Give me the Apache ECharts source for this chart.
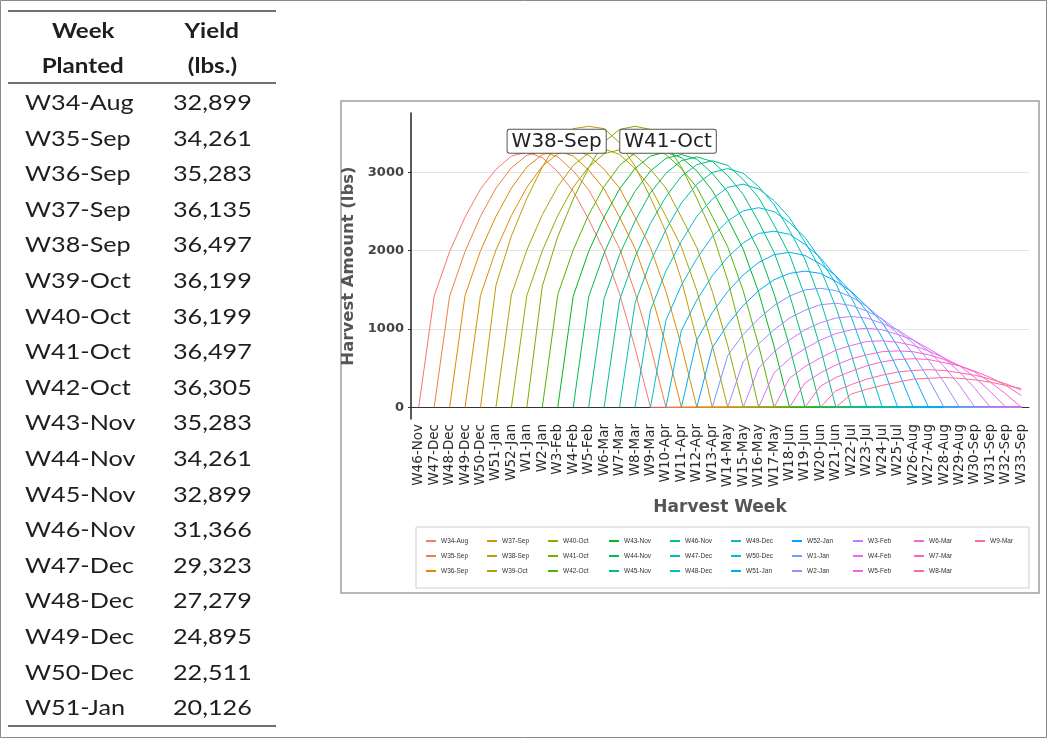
<!DOCTYPE html>
<html>
<head>
<meta charset="utf-8">
<script src="https://cdn.jsdelivr.net/npm/echarts@6/dist/echarts.min.js"></script>
<style>
    html, body { margin: 0; padding: 0; background: #fff; }
    #chart { position: absolute; left: 0; top: 0; width: 1047px; height: 738px; }
    #tbl { position: absolute; left: 8px; top: 10px; width: 268px; z-index: 2;
        font-family: Lato, 'Open Sans', sans-serif; color: #1e1e1e;
        border-top: 2px solid #707070; border-bottom: 2px solid #707070; }
    #tbl .hdr { position: relative; height: 70px; border-bottom: 2px solid #707070; font-weight: bold; font-size: 21px; }
    #tbl .hdr div { position: absolute; top: 0; text-align: center; line-height: 35px; }
    #tbl .row { position: relative; height: 35.6px; font-size: 21px; }
    #tbl .row span { position: absolute; top: 0; line-height: 35.6px; white-space: nowrap; transform: scaleX(1.2); transform-origin: left center; }
    #tbl .st { display: inline-block; transform: scaleX(1.15); }
</style>
</head>
<body>
<div id="chart"></div>
<div id="tbl"></div>
<script>
// harvest weeks on the x axis
var harvestWeeks = ['W46-Nov', 'W47-Dec', 'W48-Dec', 'W49-Dec', 'W50-Dec', 'W51-Jan', 'W52-Jan', 'W1-Jan',
    'W2-Jan', 'W3-Feb', 'W4-Feb', 'W5-Feb', 'W6-Mar', 'W7-Mar', 'W8-Mar', 'W9-Mar', 'W10-Apr', 'W11-Apr',
    'W12-Apr', 'W13-Apr', 'W14-May', 'W15-May', 'W16-May', 'W17-May', 'W18-Jun', 'W19-Jun', 'W20-Jun',
    'W21-Jun', 'W22-Jul', 'W23-Jul', 'W24-Jul', 'W25-Jul', 'W26-Aug', 'W27-Aug', 'W28-Aug', 'W29-Aug',
    'W30-Sep', 'W31-Sep', 'W32-Sep', 'W33-Sep'];

// planting weeks (one curve each)
var plantingWeeks = ['W34-Aug', 'W35-Sep', 'W36-Sep', 'W37-Sep', 'W38-Sep', 'W39-Oct', 'W40-Oct', 'W41-Oct',
    'W42-Oct', 'W43-Nov', 'W44-Nov', 'W45-Nov', 'W46-Nov', 'W47-Dec', 'W48-Dec', 'W49-Dec', 'W50-Dec',
    'W51-Jan', 'W52-Jan', 'W1-Jan', 'W2-Jan', 'W3-Feb', 'W4-Feb', 'W5-Feb', 'W6-Mar', 'W7-Mar', 'W8-Mar', 'W9-Mar'];

// index of the first harvest week for each planting
var firstHarvest = [0, 1, 2, 3, 4, 5, 6, 7, 8, 9, 10, 11, 12, 13, 14, 15, 16, 17, 18, 19, 20, 21, 22, 23, 24, 25, 26, 27];

// weekly harvest (lbs) from the first harvest week on
var hW34Aug = [0, 1420, 1990, 2430, 2790, 3040, 3210, 3260, 3190, 3010, 2760, 2400, 2000, 1450, 760, 0];
var hW35Sep = [0, 1420, 1990, 2440, 2800, 3060, 3220, 3270, 3200, 3020, 2780, 2420, 2030, 1470, 780, 0];
var hW36Sep = [0, 1430, 2000, 2440, 2800, 3070, 3230, 3280, 3210, 3030, 2790, 2430, 2030, 1480, 790, 0];
var hW37Sep = [0, 1430, 2010, 2450, 2810, 3080, 3240, 3290, 3220, 3040, 2800, 2430, 2040, 1480, 790, 0];
var hW38Sep = [0, 1560, 2190, 2670, 3070, 3400, 3560, 3590, 3560, 3380, 3080, 2680, 2240, 1630, 860, 0];
var hW39Oct = [0, 1440, 2010, 2460, 2820, 3090, 3250, 3300, 3230, 3050, 2810, 2440, 2050, 1490, 790, 0];
var hW40Oct = [0, 1430, 2000, 2450, 2810, 3070, 3240, 3290, 3220, 3040, 2800, 2430, 2040, 1480, 790, 0];
var hW41Oct = [0, 1550, 2180, 2660, 3060, 3390, 3550, 3590, 3550, 3370, 3070, 2670, 2230, 1620, 860, 0];
var hW42Oct = [0, 1440, 2010, 2460, 2820, 3090, 3250, 3300, 3230, 3050, 2810, 2440, 2050, 1490, 790, 0];
var hW43Nov = [0, 1420, 1990, 2430, 2790, 3050, 3210, 3260, 3190, 3020, 2770, 2410, 2020, 1470, 780, 0];
var hW44Nov = [0, 1410, 1970, 2410, 2760, 3020, 3180, 3230, 3170, 2990, 2750, 2390, 2000, 1450, 780, 0];
var hW45Nov = [0, 1390, 1950, 2380, 2740, 2990, 3150, 3200, 3140, 2960, 2720, 2370, 1980, 1440, 770, 0];
var hW46Nov = [0, 1370, 1920, 2350, 2690, 2950, 3100, 3150, 3090, 2910, 2680, 2330, 1950, 1420, 760, 0];
var hW47Dec = [0, 1330, 1860, 2270, 2610, 2850, 3000, 3050, 2990, 2820, 2590, 2260, 1890, 1370, 730, 0];
var hW48Dec = [0, 1240, 1740, 2120, 2440, 2660, 2810, 2850, 2790, 2640, 2420, 2110, 1770, 1280, 680, 0];
var hW49Dec = [0, 1110, 1560, 1900, 2180, 2380, 2510, 2550, 2500, 2360, 2170, 1890, 1580, 1150, 610, 0];
var hW50Dec = [0, 980, 1370, 1680, 1920, 2100, 2220, 2250, 2210, 2080, 1910, 1670, 1400, 1010, 540, 0];
var hW51Jan = [0, 860, 1210, 1480, 1690, 1850, 1950, 1980, 1940, 1830, 1680, 1470, 1230, 890, 480, 0];
var hW52Jan = [0, 760, 1060, 1300, 1490, 1630, 1710, 1740, 1710, 1610, 1480, 1290, 1080, 780, 420, 0];
var hW1Jan = [0, 660, 930, 1130, 1300, 1420, 1500, 1520, 1490, 1410, 1290, 1120, 940, 680, 360, 0];
var hW2Jan = [0, 580, 810, 990, 1140, 1240, 1310, 1330, 1300, 1230, 1130, 980, 820, 600, 320, 0];
var hW3Feb = [0, 500, 710, 860, 990, 1080, 1140, 1160, 1140, 1070, 990, 860, 720, 520, 280, 0];
var hW4Feb = [0, 440, 620, 750, 860, 940, 990, 1010, 990, 930, 860, 750, 630, 450, 240, 0];
var hW5Feb = [0, 370, 520, 630, 730, 790, 840, 850, 830, 790, 720, 630, 530, 380, 200, 0];
var hW6Mar = [0, 310, 440, 540, 620, 670, 710, 720, 710, 670, 610, 530, 450, 320, 170, 0];
var hW7Mar = [0, 270, 380, 460, 530, 580, 610, 620, 610, 570, 530, 460, 380, 280, 150];
var hW8Mar = [0, 210, 290, 360, 410, 450, 470, 480, 470, 440, 410, 360, 300, 220];
var hW9Mar = [0, 170, 230, 280, 320, 360, 370, 380, 370, 350, 320, 280, 240];

var harvestCurves = [hW34Aug, hW35Sep, hW36Sep, hW37Sep, hW38Sep, hW39Oct, hW40Oct, hW41Oct, hW42Oct,
    hW43Nov, hW44Nov, hW45Nov, hW46Nov, hW47Dec, hW48Dec, hW49Dec, hW50Dec, hW51Jan, hW52Jan, hW1Jan,
    hW2Jan, hW3Feb, hW4Feb, hW5Feb, hW6Mar, hW7Mar, hW8Mar, hW9Mar];

// table on the left
var tableWeeks = ['W34-Aug', 'W35-Sep', 'W36-Sep', 'W37-Sep', 'W38-Sep', 'W39-Oct', 'W40-Oct', 'W41-Oct', 'W42-Oct',
    'W43-Nov', 'W44-Nov', 'W45-Nov', 'W46-Nov', 'W47-Dec', 'W48-Dec', 'W49-Dec', 'W50-Dec', 'W51-Jan'];
var tableYields = [32899, 34261, 35283, 36135, 36497, 36199, 36199, 36497, 36305, 35283, 34261, 32899,
    31366, 29323, 27279, 24895, 22511, 20126];

var yTicks = [0, 1000, 2000, 3000];

// ggplot style hue palette (hcl, c=100, l=65)
function hcl(h, c, l) {
    var hr = h * Math.PI / 180;
    var U = c * Math.cos(hr), V = c * Math.sin(hr);
    var Y = Math.pow((l + 16) / 116, 3);
    var u = U / (13 * l) + 0.1978398;
    var v = V / (13 * l) + 0.4683363;
    var X = 9 * Y * u / (4 * v);
    var Z = Y * (12 - 3 * u - 20 * v) / (4 * v);
    var lin = [
        3.240479 * X - 1.537150 * Y - 0.498535 * Z,
        -0.969256 * X + 1.875992 * Y + 0.041556 * Z,
        0.055648 * X - 0.204043 * Y + 1.057311 * Z
    ];
    return '#' + lin.map(function (x) {
        var g = x <= 0.0031308 ? 12.92 * x : 1.055 * Math.pow(x, 1 / 2.4) - 0.055;
        g = Math.max(0, Math.min(1, g));
        var s = Math.round(g * 255).toString(16);
        return s.length < 2 ? '0' + s : s;
    }).join('');
}
var colors = plantingWeeks.map(function (w, i) {
    return hcl(15 + 360 * i / plantingWeeks.length, 100, 65);
});

// table
var tbl = document.getElementById('tbl');
var html = '<div class="hdr">' +
    '<div style="left:0;width:150px"><span class="st">Week</span><br><span class="st">Planted</span></div>' +
    '<div style="left:150px;width:108px"><span class="st">Yield</span><br><span class="st">(lbs.)</span></div></div>';
tableWeeks.forEach(function (w, i) {
    html += '<div class="row"><span style="left:17px">' + w + '</span>' +
        '<span style="left:165px">' + tableYields[i].toLocaleString('en-US') + '</span></div>';
});
tbl.innerHTML = html;

// chart
var font = 'DejaVu Sans';
var labelOffsets = { 'W38-Sep': [-32, 15], 'W41-Oct': [33, 15] };

var series = harvestCurves.map(function (curve, k) {
    var data = harvestWeeks.map(function () { return null; });
    var start = firstHarvest[k];
    for (var i = start; i < harvestWeeks.length; i++) {
        var off = i - start;
        data[i] = off < curve.length ? curve[off] : 0;
    }
    var s = {
        name: plantingWeeks[k],
        type: 'line',
        data: data,
        color: colors[k],
        symbol: 'none',
        smooth: false,
        lineStyle: { width: 1 },
        emphasis: { disabled: true }
    };
    if (labelOffsets[plantingWeeks[k]]) {
        s.markPoint = {
            symbol: 'circle',
            symbolSize: 1,
            itemStyle: { color: 'rgba(0,0,0,0)' },
            data: [{ type: 'max' }],
            label: {
                show: true,
                position: 'inside',
                offset: labelOffsets[plantingWeeks[k]],
                formatter: function (p) { return p.seriesName; },
                fontFamily: font,
                fontSize: 20,
                color: '#222',
                backgroundColor: '#fff',
                borderColor: '#555',
                borderWidth: 1,
                borderRadius: 2,
                padding: [2, 4, 1, 4]
            }
        };
    }
    return s;
});

// legend: 3 rows, filled column by column
var legends = [];
for (var j = 0; j * 3 < plantingWeeks.length; j++) {
    legends.push({
        orient: 'vertical',
        left: 426 + 61 * j,
        top: 537,
        padding: 0,
        itemGap: 7,
        itemWidth: 10,
        itemHeight: 2,
        icon: 'rect',
        selectedMode: false,
        textStyle: { fontFamily: 'Liberation Sans', fontSize: 6.5, color: '#333', lineHeight: 8 },
        data: plantingWeeks.slice(j * 3, j * 3 + 3)
    });
}

var chart = echarts.init(document.getElementById('chart'));
chart.setOption({
    animation: false,
    backgroundColor: '#fff',
    grid: { left: 411, top: 113, width: 618, height: 306, outerBoundsMode: 'none' },
    legend: legends,
    xAxis: {
        type: 'category',
        data: harvestWeeks,
        boundaryGap: true,
        name: 'Harvest Week',
        nameLocation: 'middle',
        nameGap: 80,
        nameTextStyle: { fontFamily: font, fontWeight: 'bold', fontSize: 17, color: '#555' },
        axisLine: { lineStyle: { color: '#333', width: 1 } },
        axisTick: { alignWithLabel: true, interval: 0, length: 3, lineStyle: { color: '#333' } },
        axisLabel: { interval: 0, rotate: 90, margin: 5, fontFamily: font, fontSize: 13.5, color: '#2b2b2b' },
        splitLine: { show: false }
    },
    yAxis: {
        type: 'value',
        min: -150,
        max: 3760,
        name: 'Harvest Amount (lbs)',
        nameLocation: 'middle',
        nameGap: 45,
        nameTextStyle: { fontFamily: font, fontWeight: 'bold', fontSize: 16.5, color: '#555' },
        axisLine: { show: true, lineStyle: { color: '#222', width: 1.5 } },
        axisTick: { show: true, length: 3, customValues: yTicks, lineStyle: { color: '#333' } },
        axisLabel: {
            customValues: yTicks, margin: 7, fontFamily: font, fontWeight: 'bold', fontSize: 13, color: '#444',
            formatter: function (v) { return String(v); }
        },
        splitLine: { show: true, lineStyle: { color: '#e4e4e4', width: 1 } }
    },
    graphic: [
        { type: 'rect', silent: true, shape: { x: 0.5, y: 0.5, width: 1046, height: 737 },
            style: { fill: 'none', stroke: '#8a8a8a', lineWidth: 1 } },
        { type: 'rect', silent: true, shape: { x: 341, y: 101, width: 698, height: 492 },
            style: { fill: 'none', stroke: '#a0a0a0', lineWidth: 1.5 } },
        { type: 'rect', silent: true, shape: { x: 416, y: 527, width: 613, height: 61 },
            style: { fill: 'none', stroke: '#cfcfcf', lineWidth: 1 } }
    ],
    series: series
});
</script>
</body>
</html>
